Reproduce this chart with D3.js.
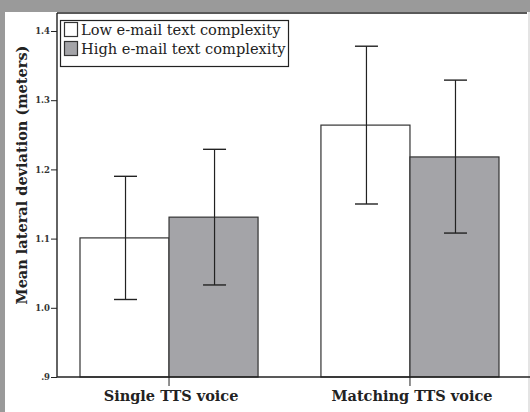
<!DOCTYPE html>
<html><head><meta charset="utf-8">
<script src="https://cdn.jsdelivr.net/npm/d3@7"></script>
<style>
html,body{margin:0;padding:0;background:#9a9a9a;}
svg{display:block;}
</style></head>
<body>
<svg id="c" width="530" height="412"></svg>
<script>
const categories = ["Single TTS voice", "Matching TTS voice"];
const seriesNames = ["Low e-mail text complexity", "High e-mail text complexity"];
const lowMeans = [1.101, 1.264];
const highMeans = [1.131, 1.218];
const lowUpper = [1.190, 1.378];
const lowLower = [1.012, 1.150];
const highUpper = [1.229, 1.329];
const highLower = [1.033, 1.108];
const yTicks = [0.9, 1.0, 1.1, 1.2, 1.3, 1.4];
const yTickLabels = [".9", "1.0", "1.1", "1.2", "1.3", "1.4"];
const colors = ["#ffffff", "#a4a4a8"];

const svg = d3.select("#c");
const W = 530, H = 412;
const m = {left: 57, right: 527, top: 13, bottom: 377};

// white panel
svg.append("rect").attr("x", 5).attr("y", 12).attr("width", 523).attr("height", 400).attr("fill", "#fff");
svg.append("rect").attr("x", 528).attr("y", 12).attr("width", 2).attr("height", 400).attr("fill", "#e4e4e4");

const y = d3.scaleLinear().domain([0.9, 1.426]).range([m.bottom, m.top]);
const x0 = d3.scaleBand().domain(categories).range([80, 499]).paddingInner(0.261).paddingOuter(0);
const x1 = d3.scaleBand().domain([0, 1]).range([0, x0.bandwidth()]).padding(0);

const font = "'DejaVu Serif', 'Liberation Serif', serif";

// frame top
svg.append("line").attr("x1", m.left).attr("x2", m.right).attr("y1", m.top).attr("y2", m.top).attr("stroke", "#222").attr("stroke-width", 1.3);

const data = categories.map((c, i) => [
  {cat: c, s: 0, v: lowMeans[i], lo: lowLower[i], hi: lowUpper[i]},
  {cat: c, s: 1, v: highMeans[i], lo: highLower[i], hi: highUpper[i]}
]).flat();

const g = svg.append("g");
g.selectAll("rect.bar").data(data).join("rect")
  .attr("class", "bar")
  .attr("x", d => x0(d.cat) + x1(d.s))
  .attr("width", x1.bandwidth())
  .attr("y", d => y(d.v))
  .attr("height", d => y(0.9) - y(d.v))
  .attr("fill", d => colors[d.s])
  .attr("stroke", "#333").attr("stroke-width", 1.2);

// error bars
const eb = g.selectAll("g.eb").data(data).join("g").attr("class", "eb");
const cx = d => x0(d.cat) + x1(d.s) + x1.bandwidth() / 2 + 1;
eb.append("line").attr("x1", cx).attr("x2", cx).attr("y1", d => y(d.hi)).attr("y2", d => y(d.lo)).attr("stroke", "#222").attr("stroke-width", 1.2);
eb.append("line").attr("x1", d => cx(d) - 11.5).attr("x2", d => cx(d) + 11.5).attr("y1", d => y(d.hi)).attr("y2", d => y(d.hi)).attr("stroke", "#222").attr("stroke-width", 1.4);
eb.append("line").attr("x1", d => cx(d) - 11.5).attr("x2", d => cx(d) + 11.5).attr("y1", d => y(d.lo)).attr("y2", d => y(d.lo)).attr("stroke", "#222").attr("stroke-width", 1.4);

// y axis
const yAxis = d3.axisLeft(y).tickValues(yTicks).tickSize(6).tickPadding(1).tickFormat((d, i) => yTickLabels[i]);
const ya = svg.append("g").attr("transform", `translate(${m.left},0)`).call(yAxis);
ya.select(".domain").attr("stroke", "#222").attr("stroke-width", 1.4).attr("d", `M0,${m.top}V${m.bottom}`);
ya.selectAll(".tick line").attr("stroke", "#222");
ya.selectAll(".tick text").attr("font-family", font).attr("font-size", 8.5).attr("font-weight", "bold").attr("fill", "#333");

// x axis
const xAxis = d3.axisBottom(x0).tickSize(9).tickPadding(5);
const xa = svg.append("g").attr("transform", `translate(0,${m.bottom})`).call(xAxis);
xa.select(".domain").attr("stroke", "#222").attr("stroke-width", 1.4).attr("d", `M${m.left},0H${W}`);
xa.selectAll(".tick line").attr("stroke", "#222");
xa.selectAll(".tick text").attr("font-family", font).attr("font-size", 14.5).attr("font-weight", "bold").attr("fill", "#222")
  .attr("dx", 2);

// y label
svg.append("text").attr("transform", `translate(27,175) rotate(-90)`)
  .attr("text-anchor", "middle").attr("font-family", font).attr("font-size", 14.5).attr("font-weight", "bold").attr("fill", "#222")
  .text("Mean lateral deviation (meters)");

// legend
const lg = svg.append("g");
lg.append("rect").attr("x", 60.5).attr("y", 20.5).attr("width", 228).attr("height", 46).attr("fill", "#fff").attr("stroke", "#222").attr("stroke-width", 1.2);
seriesNames.forEach((n, i) => {
  lg.append("rect").attr("x", 64.5).attr("y", 22.5 + i * 19).attr("width", 13).attr("height", 14)
    .attr("fill", colors[i]).attr("stroke", "#333").attr("stroke-width", 1.2);
  lg.append("text").attr("x", 81).attr("y", 35 + i * 19).attr("font-family", font).attr("font-size", 14.6).attr("fill", "#222")
    .text(n);
});
</script>
</body></html>
